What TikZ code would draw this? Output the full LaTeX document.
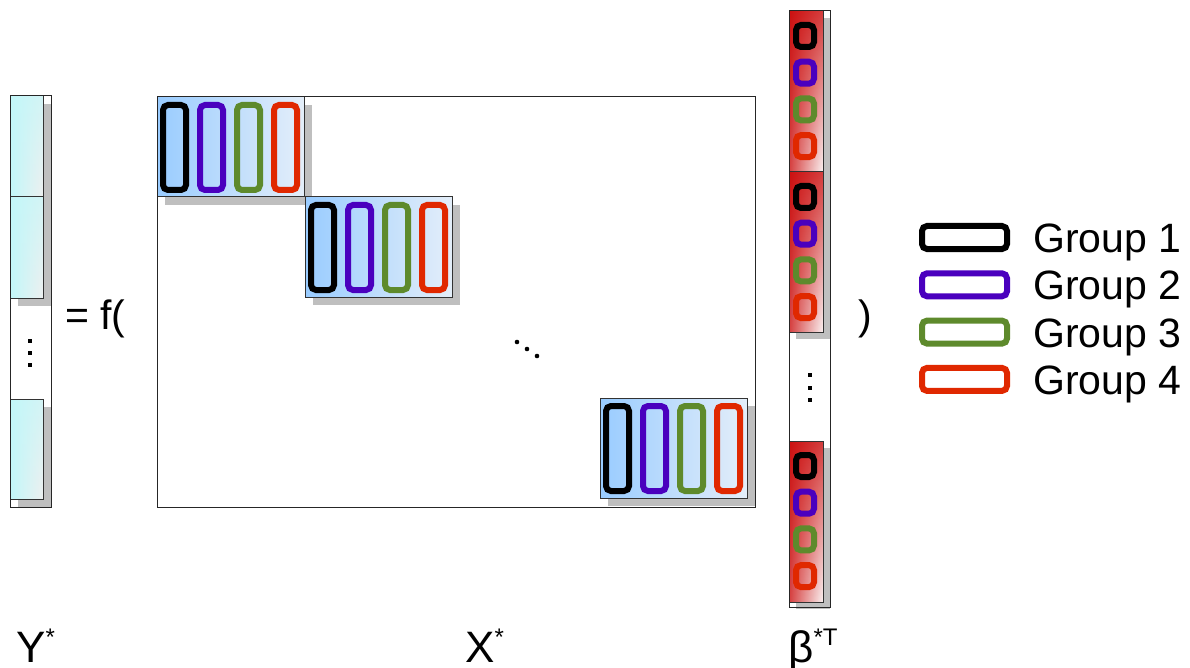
\documentclass[tikz,border=0pt]{standalone}
\usepackage{fontspec}
\setmainfont{Liberation Sans}
\usetikzlibrary{fadings}
\definecolor{gA}{HTML}{000000}
\definecolor{gB}{HTML}{4A00BE}
\definecolor{gC}{HTML}{5E8A2C}
\definecolor{gD}{HTML}{E02800}
\definecolor{shd}{HTML}{BFBFBF}
\definecolor{xL}{HTML}{99CCFF}
\definecolor{xR}{HTML}{E4EEF9}
\definecolor{yL}{HTML}{C2F7F9}
\definecolor{yR}{HTML}{EEF0F0}
\definecolor{bL}{HTML}{C80000}
\definecolor{bR}{HTML}{FAF2F2}
\tikzset{
  frame/.style={draw=black!85, line width=1pt, fill=white},
  frameline/.style={draw=black!85, line width=1pt},
  shadowbox/.style={fill=shd, draw=none},
  xblock/.style={draw=black!80, line width=1pt, left color=xL, right color=xR},
  ybase/.style={left color=yL, right color=yR},
  yover/.style={fill=yL, fill opacity=0.6, path fading=south},
  bbase/.style={left color=bL!75!white, right color=bR},
  bover/.style={fill=bL, fill opacity=0.75, path fading=south},
  border/.style={draw=black!80, line width=1pt},
  grp/.style={draw=#1, line width=6pt, rounded corners=5pt},
  dotsq/.style={fill=black, draw=none},
  big/.style={font=\fontsize{41}{49}\selectfont, inner sep=0pt},
  lab/.style={font=\fontsize{44}{52}\selectfont, inner sep=0pt, text depth=0pt}
}
\newcommand{\supstar}[1]{{\fontsize{24}{24}\selectfont\raisebox{17pt}{#1}}}
\begin{document}
\begin{tikzpicture}[x=1pt,y=-1pt]
\useasboundingbox (0,0) rectangle (1190,668);
% ---------------- Y vector
\path[frame] (10,96) rectangle (51,507);
\foreach \a/\b in {96/197,197/298,399/499}{
  \path[shadowbox] (18,\a+8) rectangle (51,\b+8);
}
\foreach \a/\b in {96/197,197/298,399/499}{
  \path[ybase] (10,\a) rectangle (43,\b);
  \path[yover] (10,\a) rectangle (43,\b);
  \path[border] (10,\a) rectangle (43,\b);
}
\path[frameline] (10,96) rectangle (51,507);
\foreach \yy in {341,353,365}{ \path[dotsq] (28,\yy-2) rectangle (32,\yy+2); }
% ---------------- X matrix
\path[frame] (157,97) rectangle (755,507);
\foreach \ox/\oy in {157/97,305/197,600/398}{
  \path[shadowbox] (\ox+8,\oy+8) rectangle (\ox+155,\oy+108);
}
\foreach \ox/\oy in {157/97,305/197,600/398}{
  \path[xblock] (\ox,\oy) rectangle (\ox+147,\oy+100);
  \foreach \k/\c in {0/gA,1/gB,2/gC,3/gD}{
    \path[grp=\c] (\ox+6+37*\k,\oy+8) rectangle (\ox+29+37*\k,\oy+93);
  }
}
\path[frameline] (157,97) rectangle (755,507);
\foreach \dx/\dy in {517/342,527/349,537/356}{ \path[dotsq] (\dx,\dy) circle (2.3); }
% ---------------- beta vector
\path[frame] (789,11) rectangle (830,607);
\foreach \a/\b in {11/172,172/332,441/602}{
  \path[shadowbox] (796,\a+7) rectangle (830,\b+7);
}
\foreach \a/\b in {11/172,172/332,441/602}{
  \path[bbase] (789,\a) rectangle (823,\b);
  \path[bover] (789,\a) rectangle (823,\b);
  \path[border] (789,\a) rectangle (823,\b);
  \foreach \k/\c in {0/gA,1/gB,2/gC,3/gD}{
    \path[grp=\c] (796,\a+14+36.7*\k) rectangle (814,\a+36+36.7*\k);
  }
}
\path[frameline] (789,11) rectangle (830,607);
\foreach \yy in {375,388,400}{ \path[dotsq] (808,\yy-2) rectangle (812,\yy+2); }
% ---------------- operators
\node[big, anchor=base west] (eqf) at (65,329) {= f(};
\node[big, anchor=base west] (close) at (858,329) {)};
% ---------------- legend
\foreach \k/\c in {0/gA,1/gB,2/gC,3/gD}{
  \path[grp=\c] (922,226+47.3*\k) rectangle (1007,249+47.3*\k);
}
\node[big, anchor=base west] (g1) at (1033,252) {Group 1};
\node[big, anchor=base west] (g2) at (1033,299.5) {Group 2};
\node[big, anchor=base west] (g3) at (1033,347) {Group 3};
\node[big, anchor=base west] (g4) at (1033,394.5) {Group 4};
% ---------------- labels
\node[lab, anchor=base west] (ylab) at (16,662) {Y\supstar{*}};
\node[lab, anchor=base west] (xlab) at (465,662) {X\supstar{*}};
\node[lab, anchor=base west] (blab) at (788,662) {β\supstar{*T}};
\end{tikzpicture}
\end{document}
